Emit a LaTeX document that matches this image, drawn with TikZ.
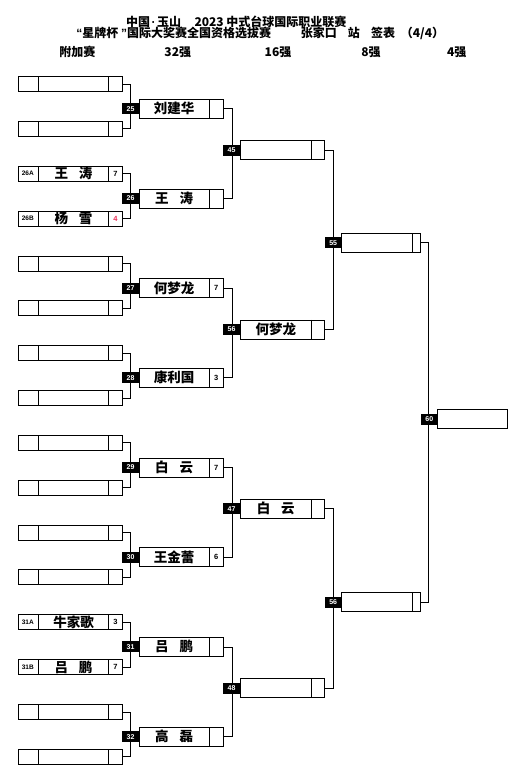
\documentclass[tikz,border=0pt]{standalone}
\usepackage{fontspec}
\setmainfont{Noto Sans CJK SC}
\newfontfamily\arial{Liberation Sans}
\usetikzlibrary{calc}
\definecolor{scred}{RGB}{235,50,90}
\newcommand{\gapp}{\hspace{11pt}}
\tikzset{
 ln/.style={line width=0.8pt},
 lbox/.style={draw, line width=0.8pt, minimum width=104pt, minimum height=15pt, inner sep=0, outer sep=0},
 rbox/.style={draw, line width=0.8pt, minimum width=84.3pt, minimum height=19pt, inner sep=0, outer sep=0},
 rfbox/.style={draw, line width=0.8pt, minimum width=79pt, minimum height=19pt, inner sep=0, outer sep=0},
 finbox/.style={draw, line width=0.8pt, minimum width=70pt, minimum height=19pt, inner sep=0, outer sep=0},
 mlab/.style={fill=black, text=white, font=\arial\bfseries\fontsize{7}{7}\selectfont, minimum width=17pt, minimum height=11pt, inner sep=0, outer sep=0},
 nmtxt/.style={font=\bfseries\fontsize{13.5}{14}\selectfont, inner sep=0},
 sctxt/.style={font=\arial\bfseries\fontsize{7.5}{8}\selectfont, inner sep=0},
 tagtxt/.style={font=\arial\bfseries\fontsize{6.5}{7}\selectfont, inner sep=0},
 hdr/.style={font=\bfseries\fontsize{12}{12}\selectfont, inner sep=0},
}
\begin{document}
\begin{tikzpicture}[x=1pt,y=-1pt]
\useasboundingbox (0,0) rectangle (529,780);
% header
\node[hdr, anchor=west] (h1a) at (126,21.7) {中国\hspace{1.5pt}{\arial\bfseries ·}\hspace{1.5pt}玉山};
\node[hdr] (h1b) at (270.5,21.7) {2023 中式台球国际职业联赛};
\node[hdr] (h2a) at (173.8,33.3) {{\arial\bfseries “}星牌杯 {\arial\bfseries ”}国际大奖赛全国资格选拔赛};
\node[hdr] (h2b) at (318.8,33.3) {张家口};
\node[hdr] (h2c) at (353.8,33.3) {站};
\node[hdr] (h2d) at (383,33.3) {签表};
\node[hdr] (h2e) at (422.5,33.3) {（4/4）};
\node[hdr] (h3a) at (77.5,52.3) {附加赛};
\node[hdr] (h3b) at (177.8,52.3) {32强};
\node[hdr] (h3c) at (278,52.3) {16强};
\node[hdr] (h3d) at (371,52.3) {8强};
\node[hdr] (h3e) at (456.7,52.3) {4强};
% left column
\foreach \i in {0,...,15} {
 \pgfmathsetmacro\yy{84+44.85*\i}
 \node[lbox] (L\i) at (70.3,\yy) {};
 \draw[ln] ([xshift=20pt]L\i.north west) -- ([xshift=20pt]L\i.south west);
 \draw[ln] ([xshift=-13.6pt]L\i.north east) -- ([xshift=-13.6pt]L\i.south east);
}
\foreach \i/\tg/\nm/\sc/\cl in {2/26A/{王\gapp 涛}/7/black, 3/26B/{杨\gapp 雪}/4/scred, 12/31A/牛家歌/3/black, 13/31B/{吕\gapp 鹏}/7/black} {
 \node[tagtxt] (tg\i) at ([xshift=9.5pt]L\i.west) {\tg};
 \node[nmtxt] (nm\i) at ([xshift=3.2pt]L\i.center) {\nm};
 \node[sctxt, text=\cl] (sc\i) at ([xshift=-6.8pt]L\i.east) {\sc};
}
% round 2 boxes
\foreach \j in {0,...,7} {
 \pgfmathsetmacro\yy{108.7+89.7*\j}
 \node[rbox] (R\j) at (181.15,\yy) {};
 \draw[ln] ([xshift=-14pt]R\j.north east) -- ([xshift=-14pt]R\j.south east);
}
\foreach \j/\nm/\sc in {0/刘建华/, 1/{王\gapp 涛}/, 2/何梦龙/7, 3/康利国/3, 4/{白\gapp 云}/7, 5/王金蕾/6, 6/{吕\gapp 鹏}/, 7/{高\gapp 磊}/} {
 \node[nmtxt] (rn\j) at ([xshift=-7pt]R\j.center) {\nm};
 \node[sctxt] (rs\j) at ([xshift=-7pt]R\j.east) {\sc};
}
% round 3 boxes
\foreach \k in {0,...,3} {
 \pgfmathsetmacro\yy{150+179.4*\k}
 \node[rbox] (S\k) at (282.15,\yy) {};
 \draw[ln] ([xshift=-12.8pt]S\k.north east) -- ([xshift=-12.8pt]S\k.south east);
}
\node[nmtxt] (sn1) at ([xshift=-6.4pt]S1.center) {何梦龙};
\node[nmtxt] (sn2) at ([xshift=-6.4pt]S2.center) {白\gapp 云};
% round 4 boxes
\node[rfbox] (Q0) at (381.2,242.8) {};
\node[rfbox] (Q1) at (381.2,602.2) {};
\foreach \q in {0,1} {
 \draw[ln] ([xshift=-8.4pt]Q\q.north east) -- ([xshift=-8.4pt]Q\q.south east);
}
% final
\node[finbox] (F) at (472.3,419) {};
% connectors
\foreach \j in {0,...,7} {
 \pgfmathtruncatemacro\a{2*\j}
 \pgfmathtruncatemacro\b{2*\j+1}
 \draw[ln] (L\a.east) -- ++(7.7,0) |- (L\b.east);
}
\foreach \k in {0,...,3} {
 \pgfmathtruncatemacro\a{2*\k}
 \pgfmathtruncatemacro\b{2*\k+1}
 \draw[ln] (R\a.east) -- ++(8.7,0) |- (R\b.east);
}
\foreach \q in {0,1} {
 \pgfmathtruncatemacro\a{2*\q}
 \pgfmathtruncatemacro\b{2*\q+1}
 \draw[ln] (S\a.east) -- ++(9,0) |- (S\b.east);
}
\draw[ln] (Q0.east) -- ++(7.6,0) |- (Q1.east);
% match labels
\foreach \j in {0,...,7} {
 \pgfmathtruncatemacro\n{25+\j}
 \node[mlab, anchor=east] (mR\j) at (R\j.west) {\n};
}
\foreach \k/\n in {0/45, 1/56, 2/47, 3/48} {
 \node[mlab, anchor=east] (mS\k) at (S\k.west) {\n};
}
\node[mlab, anchor=east] (mQ0) at (Q0.west) {55};
\node[mlab, anchor=east] (mQ1) at (Q1.west) {56};
\node[mlab, anchor=east, minimum width=16pt] (mF) at (F.west) {60};
\end{tikzpicture}
\end{document}
